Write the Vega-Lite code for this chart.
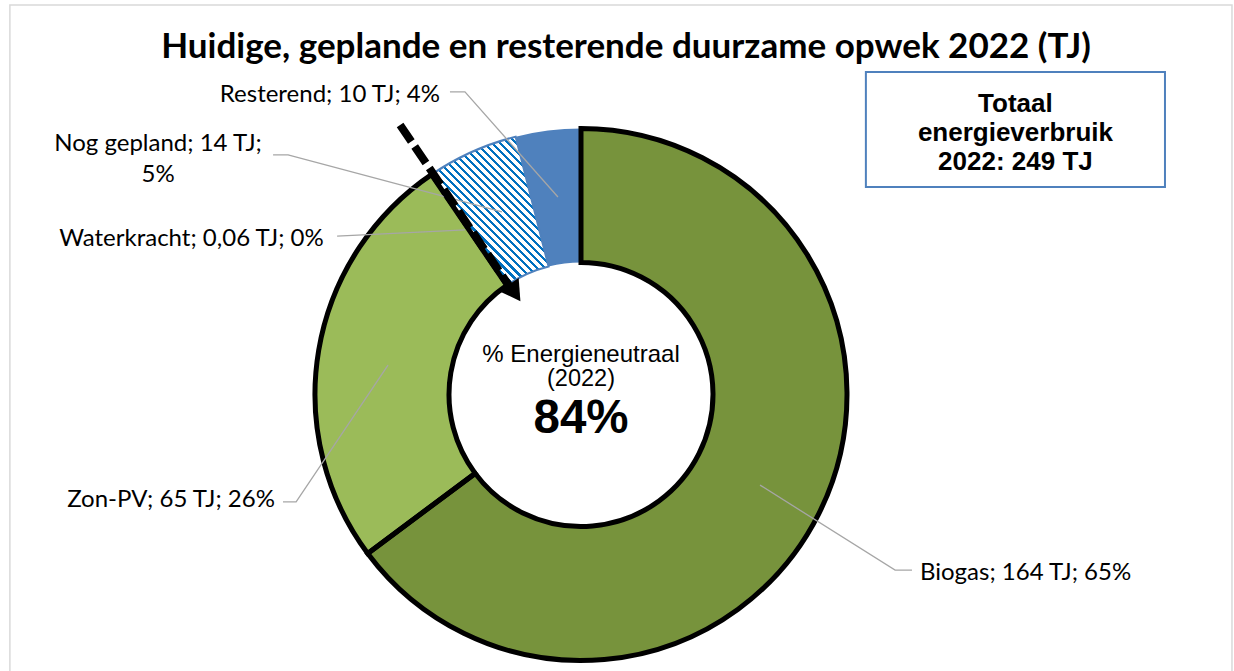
{
  "$schema": "https://vega.github.io/schema/vega-lite/v6.json",
  "width": 1162,
  "height": 553,
  "autosize": {"type": "none"},
  "padding": {"left": 0, "top": 118, "right": 72, "bottom": 0},
  "background": "white",
  "title": {
    "text": "Huidige, geplande en resterende duurzame opwek 2022 (TJ)",
    "font": "Lato", "fontSize": 35, "fontWeight": "bold", "color": "#000000",
    "anchor": "middle", "frame": "group", "dx": 45, "offset": -61
  },
  "config": {"view": {"stroke": null}},
  "datasets": {
    "slices": [
      {"cat": "Biogas", "tj": 164, "ord": 1, "label": "Biogas; 164 TJ; 65%", "lx": 1.265, "ly": -0.666},
      {"cat": "Zon-PV", "tj": 65, "ord": 2, "label": "Zon-PV; 65 TJ; 26%", "lx": -1.142, "ly": -0.394},
      {"cat": "Waterkracht", "tj": 0.06, "ord": 3, "label": "Waterkracht; 0,06 TJ; 0%", "lx": -0.96, "ly": 0.58},
      {"cat": "Nog gepland", "tj": 14, "ord": 4, "label": "Nog gepland; 14 TJ;\n5%", "lx": -1.578, "ly": 0.935},
      {"cat": "Resterend", "tj": 10, "ord": 5, "label": "Resterend; 10 TJ; 4%", "lx": -0.526, "ly": 1.118}
    ],
    "leaders": [
      {"cat": "Biogas", "i": 0, "x": 0.668, "y": -0.338},
      {"cat": "Biogas", "i": 1, "x": 1.172, "y": -0.655},
      {"cat": "Biogas", "i": 2, "x": 1.235, "y": -0.655},
      {"cat": "Zon-PV", "i": 0, "x": -1.112, "y": -0.401},
      {"cat": "Zon-PV", "i": 1, "x": -1.063, "y": -0.401},
      {"cat": "Zon-PV", "i": 2, "x": -0.72, "y": 0.11},
      {"cat": "Waterkracht", "i": 0, "x": -0.91, "y": 0.591},
      {"cat": "Waterkracht", "i": 1, "x": -0.433, "y": 0.614},
      {"cat": "Nog gepland", "i": 0, "x": -1.149, "y": 0.894},
      {"cat": "Nog gepland", "i": 1, "x": -1.093, "y": 0.894},
      {"cat": "Nog gepland", "i": 2, "x": -0.295, "y": 0.681},
      {"cat": "Resterend", "i": 0, "x": -0.489, "y": 1.129},
      {"cat": "Resterend", "i": 1, "x": -0.433, "y": 1.129},
      {"cat": "Resterend", "i": 2, "x": -0.086, "y": 0.737}
    ]
  },
  "layer": [
    {
      "data": {"values": [{}]},
      "mark": {"type": "rect", "fill": null, "stroke": "#D9D9D9", "strokeWidth": 1.5},
      "encoding": {
        "x": {"datum": -2.131, "type": "quantitative", "scale": {"domain": [-2.1679, 2.1679], "nice": false, "zero": false}, "axis": null},
        "x2": {"datum": 2.429},
        "y": {"datum": 1.453, "type": "quantitative", "scale": {"domain": [-1.0317, 1.0317], "nice": false, "zero": false}, "axis": null},
        "y2": {"datum": -1.2}
      }
    },
    {
      "data": {"name": "slices"},
      "mark": {"type": "arc", "outerRadius": 266, "innerRadius": 132},
      "encoding": {
        "theta": {"field": "tj", "type": "quantitative", "stack": true},
        "order": {"field": "ord"},
        "color": {
          "field": "cat", "type": "nominal", "legend": null,
          "scale": {"domain": ["Biogas", "Zon-PV", "Waterkracht", "Nog gepland", "Resterend"],
                    "range": ["#77933C", "#9BBB59", "#9BBB59", "#FFFFFF", "#4F81BD"]}
        }
      }
    },
    {
      "data": {"name": "slices"},
      "mark": {
        "type": "arc", "outerRadius": 266, "innerRadius": 132,
        "stroke": "#4F81BD", "strokeWidth": 2,
        "fill": {
          "gradient": "linear", "x1": 0, "y1": 1, "x2": 0.868, "y2": -0.104,
          "stops": [
            {"offset": 0, "color": "#0070C0"}, {"offset": 0.0121, "color": "#0070C0"}, {"offset": 0.0121, "color": "#FFFFFF"}, {"offset": 0.0303, "color": "#FFFFFF"},
            {"offset": 0.0303, "color": "#0070C0"}, {"offset": 0.0424, "color": "#0070C0"}, {"offset": 0.0424, "color": "#FFFFFF"}, {"offset": 0.0606, "color": "#FFFFFF"},
            {"offset": 0.0606, "color": "#0070C0"}, {"offset": 0.0727, "color": "#0070C0"}, {"offset": 0.0727, "color": "#FFFFFF"}, {"offset": 0.0909, "color": "#FFFFFF"},
            {"offset": 0.0909, "color": "#0070C0"}, {"offset": 0.1030, "color": "#0070C0"}, {"offset": 0.1030, "color": "#FFFFFF"}, {"offset": 0.1212, "color": "#FFFFFF"},
            {"offset": 0.1212, "color": "#0070C0"}, {"offset": 0.1333, "color": "#0070C0"}, {"offset": 0.1333, "color": "#FFFFFF"}, {"offset": 0.1515, "color": "#FFFFFF"},
            {"offset": 0.1515, "color": "#0070C0"}, {"offset": 0.1636, "color": "#0070C0"}, {"offset": 0.1636, "color": "#FFFFFF"}, {"offset": 0.1818, "color": "#FFFFFF"},
            {"offset": 0.1818, "color": "#0070C0"}, {"offset": 0.1939, "color": "#0070C0"}, {"offset": 0.1939, "color": "#FFFFFF"}, {"offset": 0.2121, "color": "#FFFFFF"},
            {"offset": 0.2121, "color": "#0070C0"}, {"offset": 0.2242, "color": "#0070C0"}, {"offset": 0.2242, "color": "#FFFFFF"}, {"offset": 0.2424, "color": "#FFFFFF"},
            {"offset": 0.2424, "color": "#0070C0"}, {"offset": 0.2545, "color": "#0070C0"}, {"offset": 0.2545, "color": "#FFFFFF"}, {"offset": 0.2727, "color": "#FFFFFF"},
            {"offset": 0.2727, "color": "#0070C0"}, {"offset": 0.2848, "color": "#0070C0"}, {"offset": 0.2848, "color": "#FFFFFF"}, {"offset": 0.3030, "color": "#FFFFFF"},
            {"offset": 0.3030, "color": "#0070C0"}, {"offset": 0.3151, "color": "#0070C0"}, {"offset": 0.3151, "color": "#FFFFFF"}, {"offset": 0.3333, "color": "#FFFFFF"},
            {"offset": 0.3333, "color": "#0070C0"}, {"offset": 0.3454, "color": "#0070C0"}, {"offset": 0.3454, "color": "#FFFFFF"}, {"offset": 0.3636, "color": "#FFFFFF"},
            {"offset": 0.3636, "color": "#0070C0"}, {"offset": 0.3757, "color": "#0070C0"}, {"offset": 0.3757, "color": "#FFFFFF"}, {"offset": 0.3939, "color": "#FFFFFF"},
            {"offset": 0.3939, "color": "#0070C0"}, {"offset": 0.4060, "color": "#0070C0"}, {"offset": 0.4060, "color": "#FFFFFF"}, {"offset": 0.4242, "color": "#FFFFFF"},
            {"offset": 0.4242, "color": "#0070C0"}, {"offset": 0.4363, "color": "#0070C0"}, {"offset": 0.4363, "color": "#FFFFFF"}, {"offset": 0.4545, "color": "#FFFFFF"},
            {"offset": 0.4545, "color": "#0070C0"}, {"offset": 0.4666, "color": "#0070C0"}, {"offset": 0.4666, "color": "#FFFFFF"}, {"offset": 0.4848, "color": "#FFFFFF"},
            {"offset": 0.4848, "color": "#0070C0"}, {"offset": 0.4969, "color": "#0070C0"}, {"offset": 0.4969, "color": "#FFFFFF"}, {"offset": 0.5152, "color": "#FFFFFF"},
            {"offset": 0.5152, "color": "#0070C0"}, {"offset": 0.5273, "color": "#0070C0"}, {"offset": 0.5273, "color": "#FFFFFF"}, {"offset": 0.5455, "color": "#FFFFFF"},
            {"offset": 0.5455, "color": "#0070C0"}, {"offset": 0.5576, "color": "#0070C0"}, {"offset": 0.5576, "color": "#FFFFFF"}, {"offset": 0.5758, "color": "#FFFFFF"},
            {"offset": 0.5758, "color": "#0070C0"}, {"offset": 0.5879, "color": "#0070C0"}, {"offset": 0.5879, "color": "#FFFFFF"}, {"offset": 0.6061, "color": "#FFFFFF"},
            {"offset": 0.6061, "color": "#0070C0"}, {"offset": 0.6182, "color": "#0070C0"}, {"offset": 0.6182, "color": "#FFFFFF"}, {"offset": 0.6364, "color": "#FFFFFF"},
            {"offset": 0.6364, "color": "#0070C0"}, {"offset": 0.6485, "color": "#0070C0"}, {"offset": 0.6485, "color": "#FFFFFF"}, {"offset": 0.6667, "color": "#FFFFFF"},
            {"offset": 0.6667, "color": "#0070C0"}, {"offset": 0.6788, "color": "#0070C0"}, {"offset": 0.6788, "color": "#FFFFFF"}, {"offset": 0.6970, "color": "#FFFFFF"},
            {"offset": 0.6970, "color": "#0070C0"}, {"offset": 0.7091, "color": "#0070C0"}, {"offset": 0.7091, "color": "#FFFFFF"}, {"offset": 0.7273, "color": "#FFFFFF"},
            {"offset": 0.7273, "color": "#0070C0"}, {"offset": 0.7394, "color": "#0070C0"}, {"offset": 0.7394, "color": "#FFFFFF"}, {"offset": 0.7576, "color": "#FFFFFF"},
            {"offset": 0.7576, "color": "#0070C0"}, {"offset": 0.7697, "color": "#0070C0"}, {"offset": 0.7697, "color": "#FFFFFF"}, {"offset": 0.7879, "color": "#FFFFFF"},
            {"offset": 0.7879, "color": "#0070C0"}, {"offset": 0.8000, "color": "#0070C0"}, {"offset": 0.8000, "color": "#FFFFFF"}, {"offset": 0.8182, "color": "#FFFFFF"},
            {"offset": 0.8182, "color": "#0070C0"}, {"offset": 0.8303, "color": "#0070C0"}, {"offset": 0.8303, "color": "#FFFFFF"}, {"offset": 0.8485, "color": "#FFFFFF"},
            {"offset": 0.8485, "color": "#0070C0"}, {"offset": 0.8606, "color": "#0070C0"}, {"offset": 0.8606, "color": "#FFFFFF"}, {"offset": 0.8788, "color": "#FFFFFF"},
            {"offset": 0.8788, "color": "#0070C0"}, {"offset": 0.8909, "color": "#0070C0"}, {"offset": 0.8909, "color": "#FFFFFF"}, {"offset": 0.9091, "color": "#FFFFFF"},
            {"offset": 0.9091, "color": "#0070C0"}, {"offset": 0.9212, "color": "#0070C0"}, {"offset": 0.9212, "color": "#FFFFFF"}, {"offset": 0.9394, "color": "#FFFFFF"},
            {"offset": 0.9394, "color": "#0070C0"}, {"offset": 0.9515, "color": "#0070C0"}, {"offset": 0.9515, "color": "#FFFFFF"}, {"offset": 0.9697, "color": "#FFFFFF"},
            {"offset": 0.9697, "color": "#0070C0"}, {"offset": 0.9818, "color": "#0070C0"}, {"offset": 0.9818, "color": "#FFFFFF"}, {"offset": 1, "color": "#FFFFFF"}
          ]
        }
      },
      "encoding": {
        "theta": {"field": "tj", "type": "quantitative", "stack": true},
        "order": {"field": "ord"},
        "opacity": {"condition": {"test": "datum.cat === 'Nog gepland'", "value": 1}, "value": 0}
      }
    },
    {
      "data": {"name": "slices"},
      "mark": {"type": "arc", "outerRadius": 266, "innerRadius": 132, "fillOpacity": 0, "stroke": "#000000", "strokeWidth": 5, "strokeJoin": "miter"},
      "encoding": {
        "theta": {"field": "tj", "type": "quantitative", "stack": true},
        "order": {"field": "ord"},
        "strokeOpacity": {"condition": {"test": "datum.cat === 'Biogas' || datum.cat === 'Zon-PV'", "value": 1}, "value": 0}
      }
    },
    {
      "data": {"name": "leaders"},
      "mark": {"type": "line", "color": "#A6A6A6", "strokeWidth": 1.3},
      "encoding": {
        "x": {"field": "x", "type": "quantitative", "scale": {"domain": [-2.1679, 2.1679], "nice": false, "zero": false}, "axis": null},
        "y": {"field": "y", "type": "quantitative", "scale": {"domain": [-1.0317, 1.0317], "nice": false, "zero": false}, "axis": null},
        "detail": {"field": "cat"},
        "order": {"field": "i"}
      }
    },
    {
      "data": {"values": [{}]},
      "mark": {"type": "rule", "color": "#000000", "strokeWidth": 8, "strokeDash": [20, 6], "strokeCap": "butt"},
      "encoding": {
        "x": {"datum": -0.675, "type": "quantitative"},
        "y": {"datum": 1.0056, "type": "quantitative"},
        "x2": {"datum": -0.265},
        "y2": {"datum": 0.401}
      }
    },
    {
      "data": {"values": [{}]},
      "mark": {"type": "point", "shape": "triangle-down", "filled": true, "color": "#000000", "opacity": 1, "size": 550, "angle": -34.3},
      "encoding": {
        "x": {"datum": -0.2474, "type": "quantitative"},
        "y": {"datum": 0.379, "type": "quantitative"}
      }
    },
    {
      "data": {"name": "slices"},
      "transform": [{"filter": "datum.cat === 'Biogas'"}],
      "mark": {"type": "text", "font": "Lato", "fontSize": 24, "color": "#000000", "align": "left", "baseline": "middle"},
      "encoding": {
        "x": {"field": "lx", "type": "quantitative"},
        "y": {"field": "ly", "type": "quantitative"},
        "text": {"field": "label"}
      }
    },
    {
      "data": {"name": "slices"},
      "transform": [{"filter": "datum.cat === 'Nog gepland'"}],
      "mark": {"type": "text", "font": "Lato", "fontSize": 24, "color": "#000000", "align": "center", "baseline": "middle", "lineBreak": "\n", "lineHeight": 31},
      "encoding": {
        "x": {"field": "lx", "type": "quantitative"},
        "y": {"field": "ly", "type": "quantitative"},
        "text": {"field": "label"}
      }
    },
    {
      "data": {"name": "slices"},
      "transform": [{"filter": "datum.cat === 'Zon-PV' || datum.cat === 'Waterkracht' || datum.cat === 'Resterend'"}],
      "mark": {"type": "text", "font": "Lato", "fontSize": 24, "color": "#000000", "align": "right", "baseline": "middle"},
      "encoding": {
        "x": {"field": "lx", "type": "quantitative"},
        "y": {"field": "ly", "type": "quantitative"},
        "text": {"field": "label"}
      }
    },
    {
      "data": {"values": [{}]},
      "mark": {"type": "text", "font": "Liberation Sans", "fontSize": 24, "color": "#000000", "align": "center", "baseline": "middle", "dy": -40},
      "encoding": {"text": {"value": "% Energieneutraal"}}
    },
    {
      "data": {"values": [{}]},
      "mark": {"type": "text", "font": "Liberation Sans", "fontSize": 23.5, "color": "#000000", "align": "center", "baseline": "middle", "dy": -16},
      "encoding": {"text": {"value": "(2022)"}}
    },
    {
      "data": {"values": [{}]},
      "mark": {"type": "text", "font": "Liberation Sans", "fontSize": 47.5, "fontWeight": "bold", "color": "#000000", "align": "center", "baseline": "middle", "dy": 24},
      "encoding": {"text": {"value": "84%"}}
    },
    {
      "data": {"values": [{}]},
      "mark": {"type": "rect", "fill": "#FFFFFF", "stroke": "#4F81BD", "strokeWidth": 2},
      "encoding": {
        "x": {"datum": 1.063, "type": "quantitative"},
        "x2": {"datum": 2.179},
        "y": {"datum": 1.203, "type": "quantitative"},
        "y2": {"datum": 0.774}
      }
    },
    {
      "data": {"values": [{}]},
      "mark": {"type": "text", "font": "Liberation Sans", "fontSize": 26, "fontWeight": "bold", "color": "#000000", "align": "center", "baseline": "middle", "lineBreak": "\n", "lineHeight": 29},
      "encoding": {
        "x": {"datum": 1.621, "type": "quantitative"},
        "y": {"datum": 1.084, "type": "quantitative"},
        "text": {"value": "Totaal\nenergieverbruik\n2022: 249 TJ"}
      }
    }
  ]
}
